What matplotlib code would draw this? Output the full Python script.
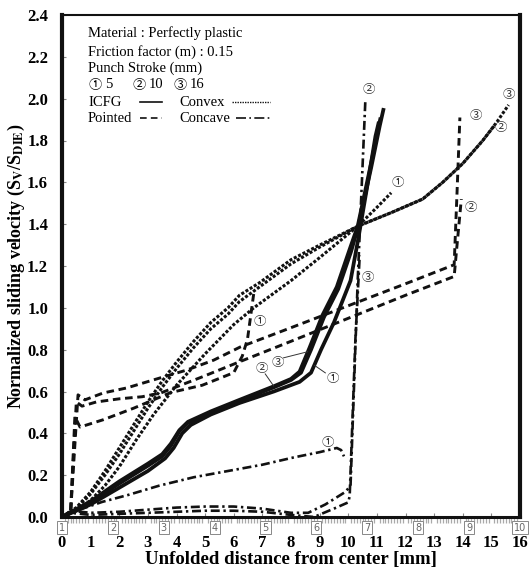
import matplotlib
matplotlib.use("Agg")
import matplotlib.pyplot as plt
from matplotlib.ticker import MultipleLocator

plt.rcParams['font.family'] = ['Liberation Serif', 'Noto Sans CJK JP']
plt.rcParams['mathtext.fontset'] = 'stix'

# ---- data ----
# ICFG (solid)
icfg_1_x = [0, 1, 2, 3, 3.6, 3.9, 4.2, 4.5, 5.2, 6.2, 7.4, 8.3, 8.7, 9.05, 9.5, 10.08, 10.35, 10.65, 10.95, 11.07]
icfg_1_y = [0, 0.06, 0.14, 0.22, 0.28, 0.33, 0.40, 0.44, 0.49, 0.545, 0.60, 0.646, 0.69, 0.80, 0.93, 1.13, 1.33, 1.57, 1.82, 1.89]
icfg_2_x = [0, 1, 2, 3, 3.5, 3.8, 4.1, 4.4, 5.2, 6.2, 7.4, 8.0, 8.35, 8.7, 9.15, 9.65, 10.1, 10.35, 10.8, 11.1, 11.24]
icfg_2_y = [0, 0.07, 0.16, 0.245, 0.29, 0.34, 0.41, 0.45, 0.50, 0.555, 0.62, 0.655, 0.69, 0.80, 0.955, 1.09, 1.27, 1.39, 1.67, 1.87, 1.955]
icfg_3_x = [0, 1, 2, 3, 3.5, 3.8, 4.1, 4.4, 5.2, 6.2, 7.4, 8.0, 8.3, 8.65, 9.1, 9.6, 10.05, 10.33, 10.75, 11.13]
icfg_3_y = [0, 0.075, 0.17, 0.255, 0.30, 0.35, 0.415, 0.455, 0.505, 0.56, 0.625, 0.66, 0.695, 0.81, 0.965, 1.10, 1.28, 1.39, 1.66, 1.91]

# Convex (dotted)
convex_1_x = [0, 0.5, 1, 1.5, 2, 2.6, 3.2, 4, 5, 6, 6.7, 8, 9, 10.33, 11, 11.5]
convex_1_y = [0, 0.03, 0.08, 0.15, 0.24, 0.37, 0.49, 0.63, 0.78, 0.92, 1.00, 1.13, 1.24, 1.39, 1.48, 1.55]
convex_2_x = [0, 0.5, 1, 1.5, 2, 2.5, 3, 3.5, 4, 4.6, 5.2, 5.8, 6.2, 6.9, 8, 9, 10.33, 11.5, 12.6, 13.3, 14, 14.7, 15.1]
convex_2_y = [0, 0.04, 0.11, 0.20, 0.30, 0.41, 0.52, 0.62, 0.71, 0.81, 0.90, 0.97, 1.03, 1.10, 1.21, 1.29, 1.39, 1.455, 1.52, 1.60, 1.69, 1.80, 1.87]
convex_3_x = [0, 0.5, 1, 1.5, 2, 2.5, 3, 3.5, 4, 4.6, 5.2, 5.8, 6.2, 6.9, 8, 9, 10.33, 11.5, 12.6, 13.3, 14, 14.7, 15.2, 15.6]
convex_3_y = [0, 0.045, 0.12, 0.22, 0.33, 0.44, 0.55, 0.65, 0.74, 0.84, 0.93, 1.00, 1.06, 1.12, 1.23, 1.30, 1.39, 1.455, 1.52, 1.60, 1.69, 1.80, 1.89, 1.97]

# Pointed (dashed)
pointed_1_x = [0, 0.3, 0.45, 0.63, 1.44, 2.5, 3.8, 4.9, 6.0, 6.3, 6.48, 6.55, 6.7]
pointed_1_y = [0, 0.02, 0.48, 0.43, 0.465, 0.52, 0.595, 0.63, 0.69, 0.77, 0.85, 0.92, 1.07]
pointed_2_x = [0, 0.3, 0.5, 0.7, 1.2, 2.0, 2.8, 3.45, 4.9, 6.2, 8, 10, 12, 13.7, 13.8, 13.95]
pointed_2_y = [0, 0.02, 0.55, 0.53, 0.55, 0.565, 0.575, 0.593, 0.67, 0.742, 0.84, 0.95, 1.06, 1.15, 1.30, 1.52]
pointed_3_x = [0, 0.3, 0.56, 0.8, 1.44, 2.26, 3.43, 4.37, 5.3, 6.23, 8, 10, 12, 13.7, 13.8, 13.9]
pointed_3_y = [0, 0.02, 0.584, 0.56, 0.593, 0.617, 0.665, 0.703, 0.75, 0.813, 0.905, 1.01, 1.115, 1.206, 1.55, 1.91]

# Concave (dash-dot)
concave_1_x = [0, 0.5, 1.4, 2.3, 3.4, 4.6, 5.8, 7, 8.1, 9, 9.6, 9.75, 9.85]
concave_1_y = [0, 0.03, 0.072, 0.105, 0.15, 0.19, 0.22, 0.25, 0.285, 0.31, 0.33, 0.32, 0.29]
concave_2_x = [0, 0.3, 1, 2, 3, 4, 5, 6, 7, 8, 8.6, 9.2, 9.9, 10.08, 10.33, 10.6]
concave_2_y = [0, 0.03, 0.02, 0.025, 0.035, 0.045, 0.05, 0.05, 0.04, 0.02, 0.02, 0.06, 0.12, 0.15, 1.13, 2.0]
concave_3_x = [0, 0.3, 1, 2, 3, 4, 5, 6, 7, 8, 8.8, 9.5, 10.0, 10.05, 10.25, 10.4]
concave_3_y = [0, 0.02, 0.01, 0.015, 0.02, 0.025, 0.03, 0.03, 0.025, 0.01, 0.0, 0.04, 0.07, 0.10, 0.85, 1.25]

# circled curve labels: (text, x, y)
curve_labels = [
    ('①', 6.9, 0.933), ('①', 11.73, 1.60), ('②', 10.71, 2.043), ('③', 15.62, 2.02),
    ('③', 14.46, 1.92), ('②', 15.34, 1.86), ('②', 14.29, 1.48), ('③', 10.68, 1.143),
    ('①', 9.28, 0.354),
]
# labels with a leader line: (text, label x, label y, line start, line end)
leader_labels = [
    ('②', 7.0, 0.711, (7.1, 0.684), (7.39, 0.627)),
    ('③', 7.53, 0.737, (7.74, 0.761), (8.58, 0.79)),
    ('①', 9.45, 0.66, (9.2, 0.689), (8.82, 0.725)),
]
node_numbers = list(range(1, 11))

fig = plt.figure(figsize=(5.32, 5.71), dpi=100)
ax = fig.add_axes([62 / 532, 1 - 517 / 571, 458 / 532, 502 / 571])

ink = '#111111'
solid = dict(color=ink, lw=2.7, solid_capstyle='butt')
dotted = dict(color=ink, lw=2.2, ls=(0, (1, 0.6)))
dashed = dict(color=ink, lw=2.1, ls=(0, (2.6, 1.6)))
dashdot = dict(color=ink, lw=1.9, ls=(0, (3.4, 1.4, 0.9, 1.4)))

for xs, ys in [(icfg_1_x, icfg_1_y), (icfg_2_x, icfg_2_y), (icfg_3_x, icfg_3_y)]:
    ax.plot(xs, ys, **solid)
for xs, ys in [(convex_1_x, convex_1_y), (convex_2_x, convex_2_y), (convex_3_x, convex_3_y)]:
    ax.plot(xs, ys, **dotted)
for xs, ys in [(pointed_1_x, pointed_1_y), (pointed_2_x, pointed_2_y), (pointed_3_x, pointed_3_y)]:
    ax.plot(xs, ys, **dashed)
for xs, ys in [(concave_1_x, concave_1_y), (concave_2_x, concave_2_y), (concave_3_x, concave_3_y)]:
    ax.plot(xs, ys, **dashdot)

circ_font = ['Noto Sans CJK JP', 'DejaVu Sans']
for t, x, y in curve_labels:
    ax.text(x, y, t, family=circ_font, fontsize=9, color='#333333', ha='center', va='center')
for t, x, y, p0, p1 in leader_labels:
    ax.text(x, y, t, family=circ_font, fontsize=9, color='#333333', ha='center', va='center')
    ax.plot([p0[0], p1[0]], [p0[1], p1[1]], color='#333333', lw=0.7)

ax.set_xlim(0, 16)
ax.set_ylim(0, 2.4)
ax.xaxis.set_major_locator(MultipleLocator(1))
ax.xaxis.set_minor_locator(MultipleLocator(0.1))
ax.yaxis.set_major_locator(MultipleLocator(0.2))
ax.tick_params(axis='both', which='major', direction='in', length=3, width=0.8, color='#888888')
ax.tick_params(axis='x', which='major', pad=13)
ax.tick_params(axis='y', which='major', pad=10)
ax.tick_params(axis='x', which='minor', direction='out', length=4, width=0.9, color='#aaaaaa')
ax.set_xticks(range(0, 17))
ax.set_xticklabels([str(i) for i in range(0, 17)])
ax.set_yticks([i * 0.2 for i in range(13)])
ax.set_yticklabels([f'{i * 0.2:.1f}' for i in range(13)])
for lab in ax.get_xticklabels() + ax.get_yticklabels():
    lab.set_fontweight('bold')
    lab.set_fontsize(12)

ax.spines['left'].set_linewidth(3.0)
ax.spines['right'].set_linewidth(3.0)
ax.spines['bottom'].set_linewidth(2.2)
ax.spines['top'].set_linewidth(1.5)
for s in ax.spines.values():
    s.set_color(ink)

# boxed node numbers under the axis
for n in node_numbers:
    ax.text((n - 1) * 16 / 9, -0.021, str(n), transform=ax.get_xaxis_transform(),
            family='DejaVu Sans', fontsize=7, color='#666666', ha='center', va='center',
            bbox=dict(boxstyle='square,pad=0.2', fc='white', ec='#888888', lw=0.7), clip_on=False)

ax.set_xlabel('Unfolded distance from center [mm]', fontsize=13.5, fontweight='bold', labelpad=0)
ax.set_ylabel(r'Normalized sliding velocity (S$_\mathbf{V}$/S$_\mathbf{DIE}$)',
              fontsize=13, fontweight='bold', labelpad=0)

# legend block (text + line samples)
tx = 0.057
rows = [(517 - 33) / 502, (517 - 52) / 502, (517 - 68) / 502, (517 - 85) / 502, (517 - 102) / 502, (517 - 118) / 502]
lf = 10.5
ax.text(tx, rows[0], 'Material : Perfectly plastic', transform=ax.transAxes, fontsize=lf, va='center')
ax.text(tx, rows[1], 'Friction factor (m) : 0.15', transform=ax.transAxes, fontsize=lf, va='center')
ax.text(tx, rows[2], 'Punch Stroke (mm)', transform=ax.transAxes, fontsize=lf, va='center')
ax.text(tx, rows[3], '①', transform=ax.transAxes, fontsize=9.5, family=circ_font, va='center')
ax.text(tx + 0.037, rows[3], '5', transform=ax.transAxes, fontsize=lf, va='center')
ax.text(tx + 0.096, rows[3], '②', transform=ax.transAxes, fontsize=9.5, family=circ_font, va='center')
ax.text(tx + 0.133, rows[3], '10', transform=ax.transAxes, fontsize=lf, va='center')
ax.text(tx + 0.186, rows[3], '③', transform=ax.transAxes, fontsize=9.5, family=circ_font, va='center')
ax.text(tx + 0.222, rows[3], '16', transform=ax.transAxes, fontsize=lf, va='center')
ax.text(tx, rows[4], 'ICFG', transform=ax.transAxes, fontsize=lf, va='center')
ax.text(tx, rows[5], 'Pointed', transform=ax.transAxes, fontsize=lf, va='center')
ax.text(0.257, rows[4], 'Convex', transform=ax.transAxes, fontsize=lf, va='center')
ax.text(0.257, rows[5], 'Concave', transform=ax.transAxes, fontsize=lf, va='center')
ax.plot([0.170, 0.218], [rows[4]] * 2, transform=ax.transAxes, color=ink, lw=1.2)
ax.plot([0.170, 0.218], [rows[5]] * 2, transform=ax.transAxes, color=ink, lw=1.2, ls=(0, (4, 2.5)))
ax.plot([0.372, 0.455], [rows[4]] * 2, transform=ax.transAxes, color=ink, lw=1.0, ls=(0, (1, 0.8)))
ax.plot([0.380, 0.455], [rows[5]] * 2, transform=ax.transAxes, color=ink, lw=1.2, ls=(0, (6, 2, 1, 2)))

fig.savefig('out.png', dpi=100)
